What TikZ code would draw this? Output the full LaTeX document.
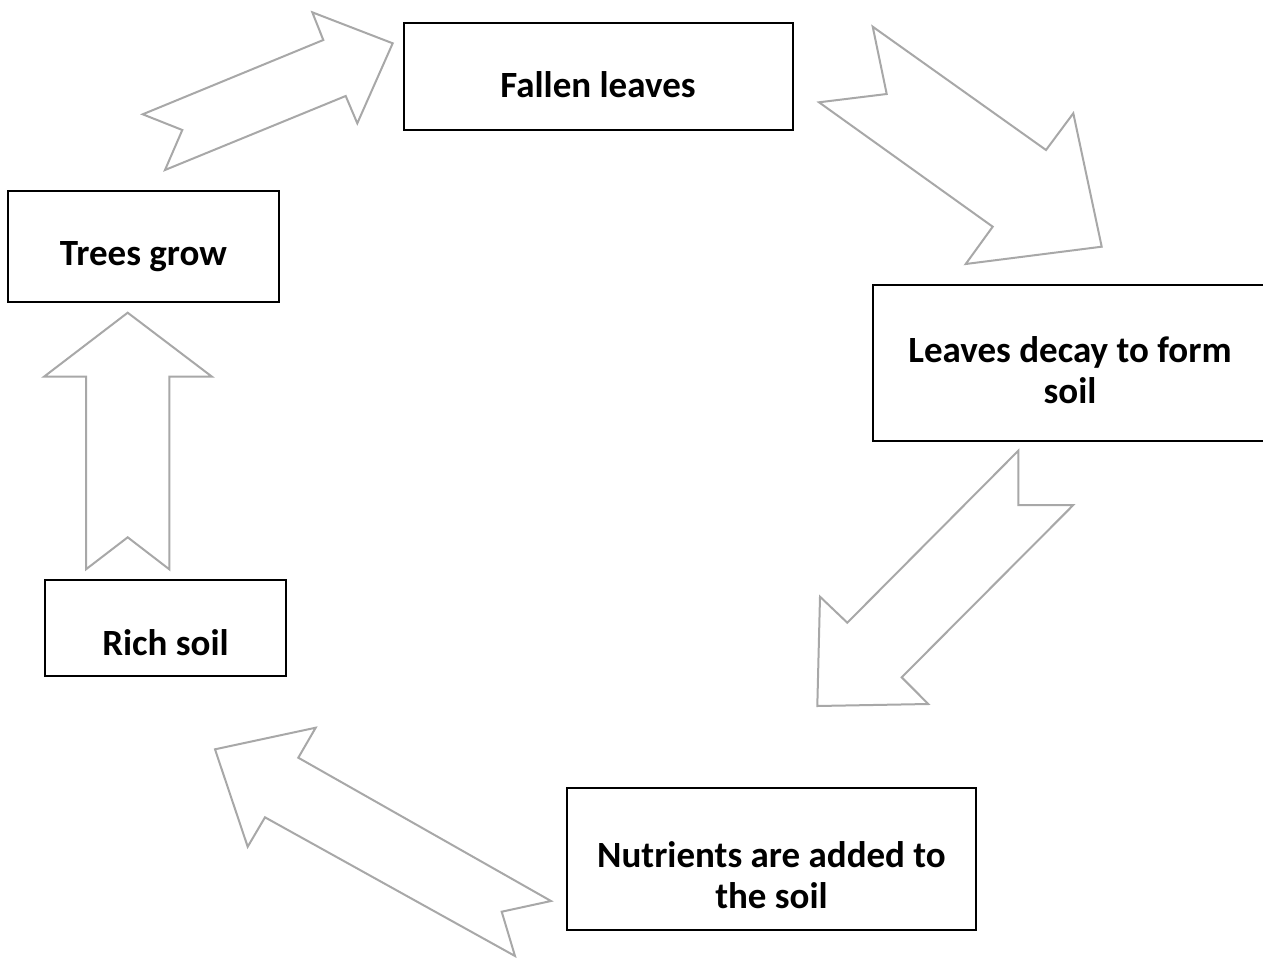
\documentclass[tikz,border=0pt]{standalone}
\usepackage{fontspec}
\setmainfont{Carlito}
\usetikzlibrary{positioning}
\definecolor{arrowgray}{RGB}{168,168,168}
\tikzset{
  box/.style={draw=black,line width=1pt,inner sep=0pt},
  txt/.style={font=\fontsize{18.5}{20.5}\selectfont\bfseries,align=center,inner sep=0pt,anchor=base},
  barrow/.style={draw=arrowgray,line width=1pt,line join=miter,fill=white}
}
\begin{document}
\begin{tikzpicture}[x=0.5pt,y=-0.5pt]
  \useasboundingbox (0,0) rectangle (1263,958);
  % boxes
  \node[box,minimum width=194.5pt,minimum height=53.5pt] (fallen) at (598.5,76.5) {};
  \node[box,minimum width=135.5pt,minimum height=55.5pt] (trees) at (143.5,246.5) {};
  \node[box,minimum width=197pt,minimum height=78pt] (decay) at (1069.5,363) {};
  \node[box,minimum width=120.5pt,minimum height=48pt] (rich) at (165.5,628) {};
  \node[box,minimum width=204.5pt,minimum height=71pt] (nutr) at (771.5,859) {};
  % texts (base = last line)
  \node[txt] (fallentxt) at (598,97) {Fallen leaves};
  \node[txt] (treestxt) at (143.5,265) {Trees grow};
  \node[txt] (decaytxt) at (1070,403) {Leaves decay to form\\soil};
  \node[txt] (richtxt) at (165.5,655) {Rich soil};
  \node[txt] (nutrtxt) at (771.5,908) {Nutrients are added to\\the soil};
  % block arrows
  \draw[barrow] (142.7,114.3) -- (323.3,40) -- (312.3,12.3) -- (392.7,43.3) -- (357.3,123.3) -- (345.7,96) -- (165,170) -- (182.3,130) -- cycle;
  \draw[barrow] (872.7,26.7) -- (1046,150) -- (1073.3,113.3) -- (1101.7,246.7) -- (965.7,264) -- (992.7,226.7) -- (819,102.3) -- (886.7,94) -- cycle;
  \draw[barrow] (1018.3,450.7) -- (847.3,622.7) -- (820,596.7) -- (817.3,706) -- (928.3,704) -- (901.7,677.3) -- (1073.3,505) -- (1018.3,505) -- cycle;
  \draw[barrow] (551,901) -- (298.3,757.7) -- (315.7,727.7) -- (215,749.3) -- (247.7,846.7) -- (265,817.3) -- (515,956) -- (501.7,911.7) -- cycle;
  \draw[barrow] (127.7,312.7) -- (212,376.7) -- (169.3,376.7) -- (169.3,569.3) -- (127.7,537.3) -- (86,569.3) -- (86,376.7) -- (44,376.7) -- cycle;
\end{tikzpicture}
\end{document}
